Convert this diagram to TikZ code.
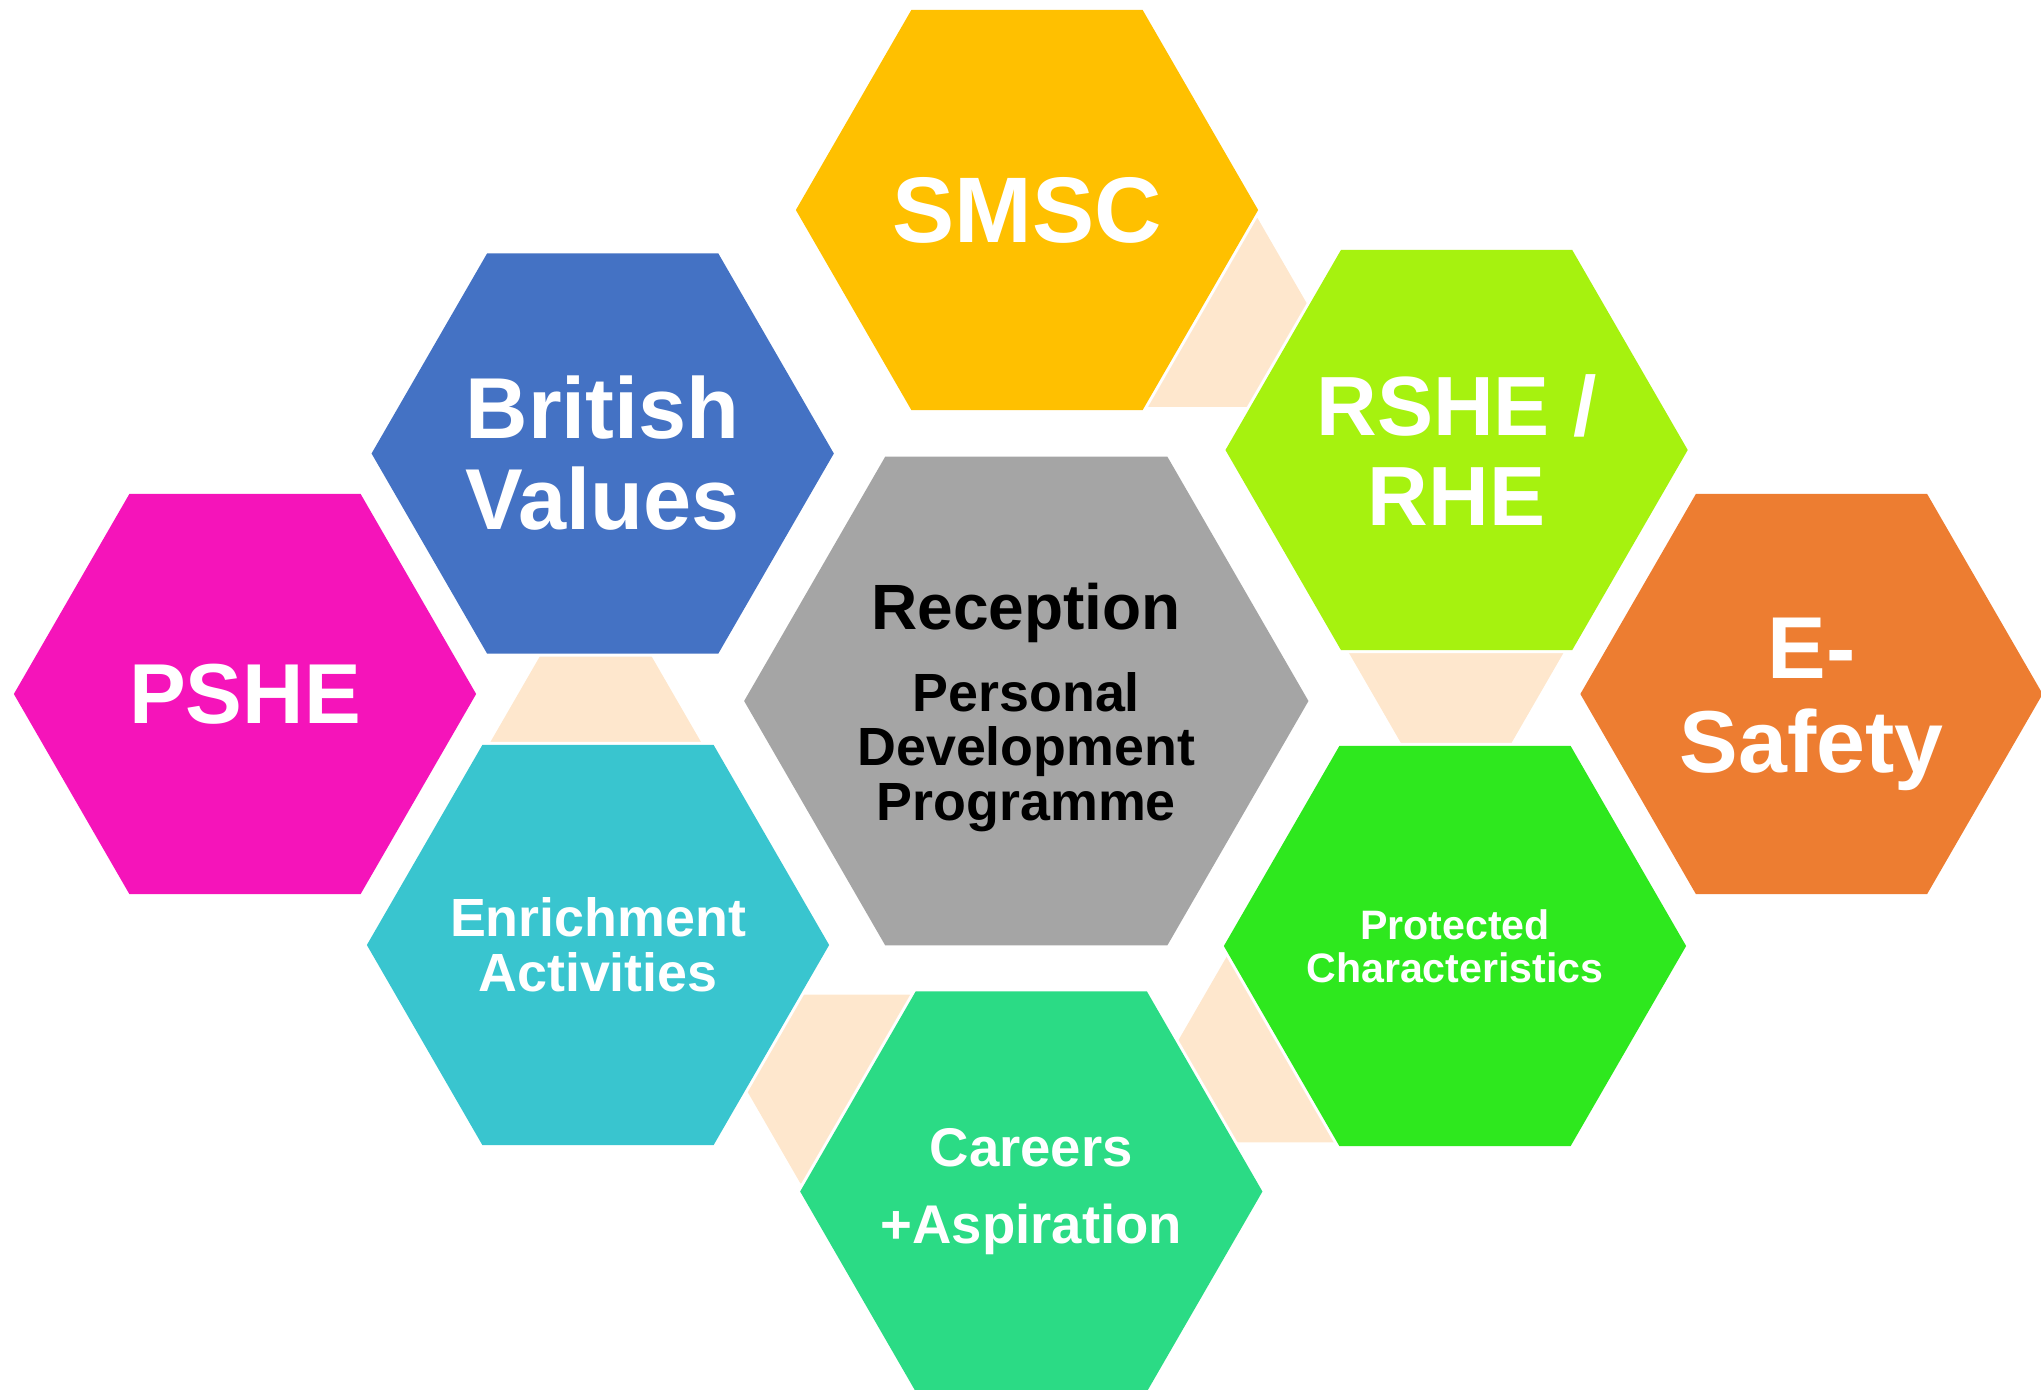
\documentclass[tikz,border=0pt]{standalone}
\usepackage{fontspec}
\setmainfont{Liberation Sans}
\usepackage{xcolor}
\usepackage{tikz}
\usetikzlibrary{shapes.geometric}

\definecolor{smscgold}{HTML}{FFC000}
\definecolor{valuesblue}{HTML}{4472C4}
\definecolor{pshepink}{HTML}{F514BA}
\definecolor{enrichcyan}{HTML}{39C5CF}
\definecolor{careersgreen}{HTML}{2BDB85}
\definecolor{rshelime}{HTML}{A6F20F}
\definecolor{esafeorange}{HTML}{ED7D31}
\definecolor{protgreen}{HTML}{2EE81E}
\definecolor{hubgrey}{HTML}{A5A5A5}
\definecolor{peach}{HTML}{FEE7CD}

\begin{document}
\begin{tikzpicture}[
  x=0.01cm, y=-0.01cm,
  hexa/.style={regular polygon, regular polygon sides=6, minimum size=4.62cm,
    inner sep=-30pt, outer sep=0pt, align=center, text=white,
    preaction={draw=white, line width=0.6mm}},
  hubhex/.style={hexa, minimum size=5.64cm, text=black},
  joinhex/.style={regular polygon, regular polygon sides=6, minimum size=2.18cm,
    inner sep=0pt, outer sep=0pt, fill=peach},
]
\useasboundingbox (0,0) rectangle (2041,1390);

\node[joinhex] (jsmsc) at (1203,312.5) {};
\node[joinhex] (jvalues) at (595.7,748.5) {};
\node[joinhex] (jrshe) at (1456.2,649.8) {};
\node[joinhex] (jenrich) at (855,1089) {};
\node[joinhex] (jprot) at (1283,1048) {};

\node[hexa, fill=smscgold, font=\bfseries\fontsize{26.5}{28}\selectfont] (smsc) at (1027,210) {SMSC};
\node[hexa, fill=valuesblue, font=\bfseries\fontsize{24.6}{25.9}\selectfont] (values) at (602.7,453.5) {British\\Values};
\node[hexa, fill=pshepink, font=\bfseries\fontsize{24.2}{26}\selectfont] (pshe) at (245,694) {PSHE};
\node[hexa, fill=enrichcyan, font=\bfseries\fontsize{15.3}{15.7}\selectfont] (enrich) at (598,945) {Enrichment\\Activities};
\node[hexa, fill=careersgreen, font=\bfseries\fontsize{15.5}{22}\selectfont] (careers) at (1031.3,1191.5) {Careers\\+Aspiration};
\node[hexa, fill=rshelime, font=\bfseries\fontsize{23.9}{25.6}\selectfont] (rshe) at (1456.6,450) {RSHE /\\RHE};
\node[hexa, fill=esafeorange, font=\bfseries\fontsize{25}{26.8}\selectfont] (esafety) at (1811.5,694) {\rule{0pt}{23pt}E-\\Safety};
\node[hexa, fill=protgreen, font=\bfseries\fontsize{11.7}{12.2}\selectfont] (prot) at (1455,946) {Protected\\Characteristics};

\node[hubhex, fill=hubgrey, font=\bfseries\fontsize{15.3}{15.6}\selectfont] (hub) at (1026.3,701)
  {{\fontsize{18.2}{18.2}\selectfont\rule{0pt}{17pt}Reception}\\[7.6pt]Personal\\Development\\Programme};
\end{tikzpicture}
\end{document}
